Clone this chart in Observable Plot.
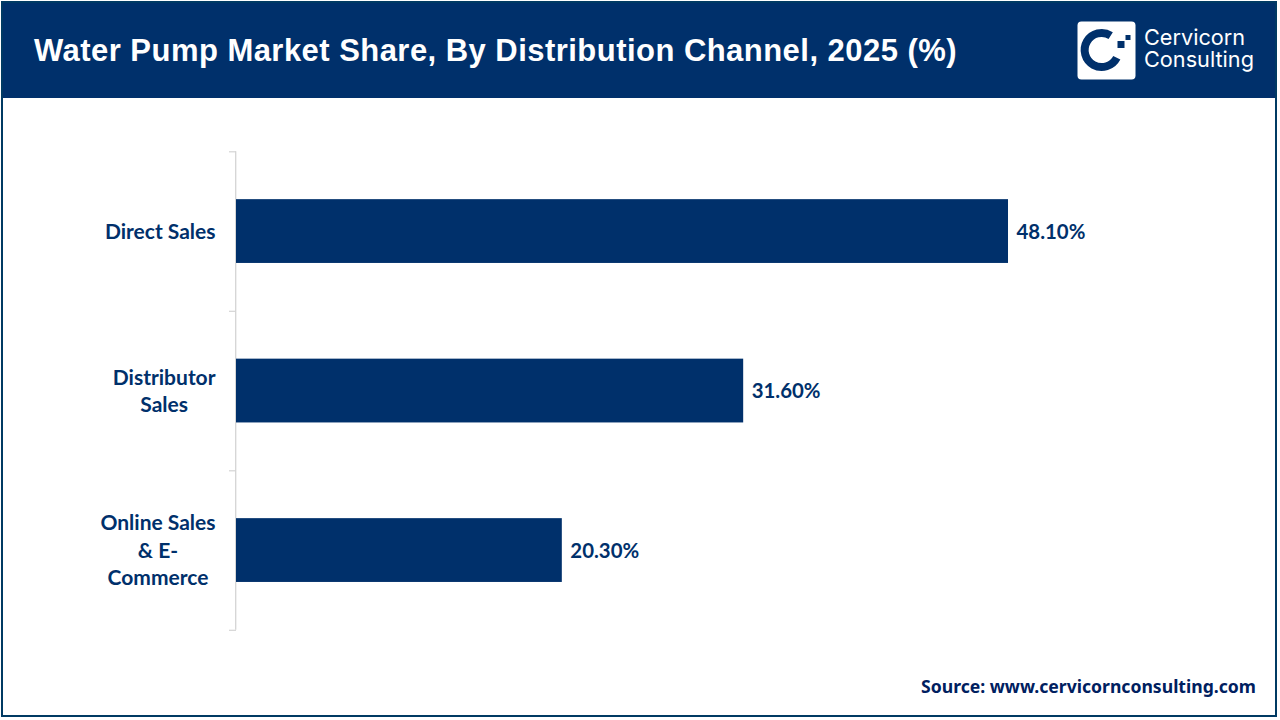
<!DOCTYPE html>
<html><head><meta charset="utf-8">
<script src="https://cdn.jsdelivr.net/npm/d3@7"></script>
<script src="https://cdn.jsdelivr.net/npm/@observablehq/plot@0.6"></script>
<style>
html,body{margin:0;padding:0;background:#fff;width:1280px;height:720px;overflow:hidden}
#page{position:relative;width:1280px;height:720px}
#frame{position:absolute;left:1px;top:1px;width:1276px;height:716px;box-sizing:border-box;border:2px solid #003a63;pointer-events:none}
#head{position:absolute;left:1px;top:1px;width:1276px;height:96.5px;background:#00306b}
#title{position:absolute;left:33px;top:30px;font:700 31px/40px "Liberation Sans",sans-serif;color:#fff;letter-spacing:.46px;white-space:nowrap}
#logo{position:absolute;left:1076px;top:20px}
.lt{position:absolute;left:1143px;font:400 21.7px/22px Inter,sans-serif;color:#fff;white-space:nowrap}
#chart{position:absolute;left:0;top:97px}
#chart svg{display:block;background:transparent}
#source{position:absolute;right:24px;top:675px;font:700 17.6px/22px "Noto Sans",sans-serif;color:#00205f;white-space:nowrap}
</style></head>
<body><div id="page">
<div id="head">
<div id="title">Water Pump Market Share, By Distribution Channel, 2025 (%)</div>
<svg id="logo" width="60" height="60" viewBox="0 0 60 60">
<rect x="0.5" y="0.5" width="58" height="58" rx="4" fill="#fff"/>
<path d="M33.7 14.6 A17 17 0 1 0 39.8 36.7" fill="none" stroke="#00306b" stroke-width="8"/>
<rect x="40.5" y="20" width="7" height="7" fill="#00306b"/>
<rect x="48.5" y="14" width="5" height="5" fill="#00306b"/>
</svg>
<div class="lt" style="top:25px">Cervicorn</div>
<div class="lt" style="top:47px">Consulting</div>
</div>
<div id="chart"></div>
<div id="source">Source: www.cervicornconsulting.com</div>
<div id="frame"></div>
</div>
<script>
const categories = ["Direct Sales", "Distributor\nSales", "Online Sales\n& E-\nCommerce"];
const shares = [48.1, 31.6, 20.3];
const table = categories.map((c, i) => ({category: c, share: shares[i]}));

const navy = "#00306b";
const labelFont = {fontFamily: "Lato, sans-serif", fontWeight: 700, fontSize: 21, fill: navy};
const pxPerUnit = (1199 - 236) / 60;
const bandStep = 159.5;

const ctx = document.createElement("canvas").getContext("2d");
ctx.font = '700 21px Lato, sans-serif';
const blockWidth = c => Math.max(...c.split("\n").map(s => ctx.measureText(s).width));

const plot = Plot.plot({
  width: 1280, height: 560,
  marginLeft: 236, marginRight: 81, marginTop: 54.3, marginBottom: 27.2,
  style: {background: "transparent"},
  x: {domain: [0, 60], axis: null},
  y: {domain: categories, axis: null, paddingInner: 0.6, paddingOuter: 0.3, round: false},
  marks: [
    Plot.ruleX([0], {stroke: "#d4d4d4", strokeWidth: 1.3, dx: -0.8}),
    Plot.ruleY(categories, {y: d => d, x1: -7 / pxPerUnit, x2: 0, stroke: "#d4d4d4", strokeWidth: 1.2, dy: -bandStep / 2}),
    Plot.ruleY(categories.slice(-1), {y: d => d, x1: -7 / pxPerUnit, x2: 0, stroke: "#d4d4d4", strokeWidth: 1.2, dy: bandStep / 2}),
    Plot.barX(table, {x: "share", y: "category", fill: navy}),
    Plot.text(table, {x: "share", y: "category", text: d => d.share.toFixed(2) + "%", textAnchor: "start", dx: 8, dy: 0.7, ...labelFont, fontSize: 20.4}),
    ...categories.map(c => Plot.text([c], {
      x: () => 0, y: d => d, text: d => d, textAnchor: "middle",
      dx: -(21 + blockWidth(c) / 2), dy: -1.5, lineHeight: 1.3, ...labelFont
    }))
  ]
});
document.getElementById("chart").appendChild(plot);
</script>
</body></html>
